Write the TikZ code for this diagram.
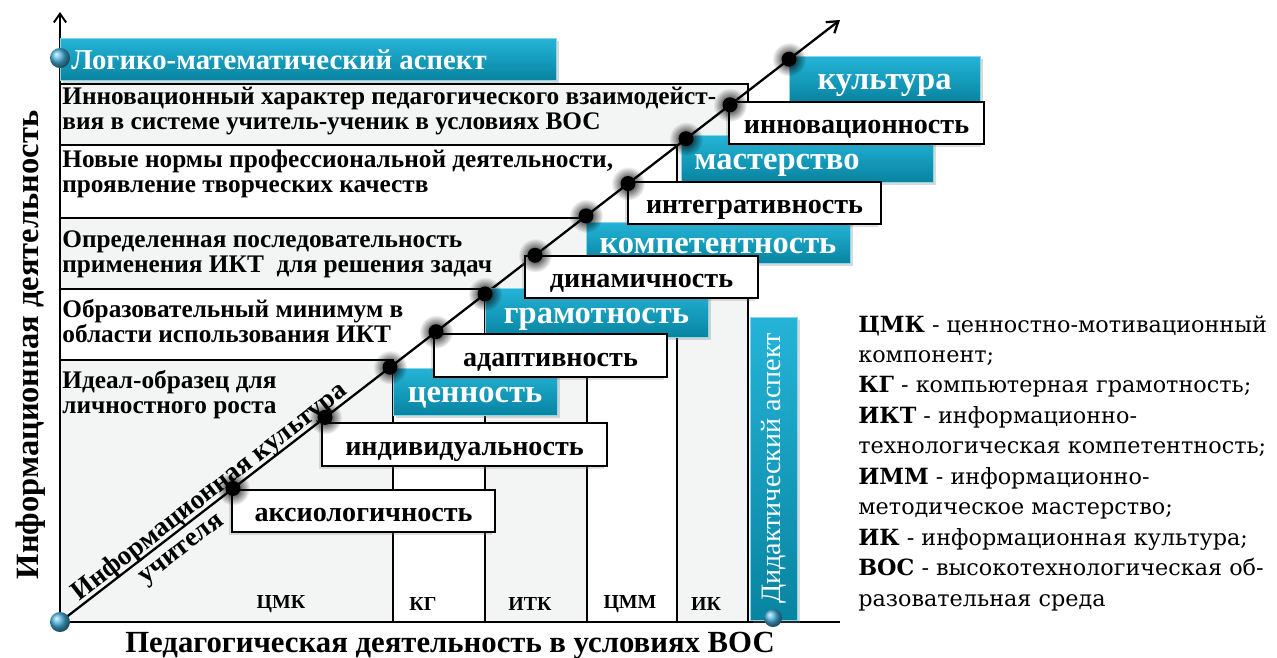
\documentclass[tikz,border=0pt]{standalone}
\usepackage{fontspec}
\setmainfont{Liberation Serif}
\newfontfamily\legfont{DejaVu Serif}
\usetikzlibrary{arrows.meta,shadows,fadings}
\definecolor{tgray}{RGB}{243,244,244}
\definecolor{cyT}{RGB}{36,180,216}
\definecolor{cyB}{RGB}{8,132,160}
\definecolor{ballc}{RGB}{70,175,220}
\tikzfading[name=dotfade, inner color=transparent!0, outer color=transparent!100]
\tikzset{
  tabline/.style={draw=black, line width=0.9pt},
  axisline/.style={line width=1.1pt},
  cyfill/.style={top color=cyT, bottom color=cyB, draw=cyT!55!white, line width=0.3pt,
    drop shadow={opacity=0.3, shadow xshift=1.5pt, shadow yshift=-1.5pt}},
  cybox/.style={rectangle, inner sep=0pt, cyfill, text=white, text height=12pt, text depth=0pt,
    font=\bfseries\fontsize{18.5}{20}\selectfont},
  whbox/.style={rectangle, inner sep=0pt, fill=white, draw=black, line width=1.3pt, text height=12pt, text depth=0pt,
    font=\bfseries\fontsize{16}{18}\selectfont,
    drop shadow={opacity=0.25, shadow xshift=-1.5pt, shadow yshift=-1.5pt}},
  rowtext/.style={anchor=north west, inner sep=0pt, align=left, font=\bfseries\fontsize{14.4}{14.2}\selectfont},
  coltext/.style={font=\bfseries\fontsize{11.3}{13}\selectfont, inner sep=0pt},
  axtext/.style={font=\bfseries\fontsize{17.5}{20}\selectfont, inner sep=0pt},
  difftext/.style={font=\bfseries\fontsize{15.5}{17}\selectfont, inner sep=0pt},
}
\begin{document}
\begin{tikzpicture}[x=0.02cm,y=-0.02cm]
\useasboundingbox (0,0) rectangle (1277,657);
\coordinate (O) at (60,622);
\coordinate (T) at (840,20);
\coordinate (Ytop) at (60,12);
\coordinate (Xend) at (840,622);

% staircase table
\draw[tabline, fill=tgray] (60,84) rectangle (748,622);
\draw[tabline, fill=white] (60,145) rectangle (677,622);
\draw[tabline, fill=tgray] (60,218) rectangle (587,622);
\draw[tabline, fill=white] (60,289) rectangle (485,622);
\draw[tabline, fill=tgray] (60,360) rectangle (393,622);

% axes
\draw[axisline, -{Straight Barb[length=5pt,width=7pt]}] (O) -- (Ytop);
\draw[axisline] (O) -- (Xend);

% aspect bars
\node[rectangle, inner sep=0pt, cyfill, minimum width=9.92cm, minimum height=0.84cm,
  text=white, text height=12pt, text depth=0pt, font=\bfseries\fontsize{16.4}{18}\selectfont] (logic) at (308,59)
  {Логико-математический аспект\hspace*{1.16cm}};
\node[rectangle, inner sep=0pt, rotate=90, cyfill, minimum width=6.06cm, minimum height=0.94cm,
  text=white, text height=8.5pt, text depth=0pt, font=\fontsize{16}{18}\selectfont] (didact) at (773.5,468.5)
  {Дидактический аспект};

% diagonal
\draw[line width=1.3pt, -{Straight Barb[length=6pt,width=8pt]}] (O) -- (T);

% cyan boxes
\node[cybox, minimum width=3.28cm, minimum height=0.94cm] (cen) at (475,391.5) {ценность};
\node[cybox, minimum width=4.46cm, minimum height=0.98cm] (gram) at (596.5,312.5) {грамотность};
\node[cybox, minimum width=5.28cm, minimum height=0.82cm] (komp) at (718,242.5) {компетентность};
\node[cybox, minimum width=5.04cm, minimum height=0.94cm] (mast) at (807,158.5) {мастерство\hspace*{1.2cm}};
\node[cybox, minimum width=3.82cm, minimum height=0.92cm] (kult) at (884.5,79) {культура};

% white boxes
\node[whbox, minimum width=5.26cm, minimum height=0.84cm] (aks) at (363.5,511) {аксиологичность};
\node[whbox, minimum width=5.7cm, minimum height=0.86cm] (ind) at (464.5,444.5) {индивидуальность};
\node[whbox, minimum width=4.66cm, minimum height=0.86cm] (adap) at (550.5,355.5) {адаптивность};
\node[whbox, minimum width=4.66cm, minimum height=0.84cm] (din) at (641.5,277) {динамичность};
\node[whbox, minimum width=5.06cm, minimum height=0.84cm] (integ) at (754.5,203) {интегративность};
\node[whbox, minimum width=5.1cm, minimum height=0.84cm] (innov) at (856.5,123) {инновационность};

% dots on the diagonal
\foreach \px/\py in {233/488.4, 325/417.4, 390/367.2, 436/331.7, 485/293.9, 535/255.3, 586/215.9, 628/183.5, 686/138.7, 730/104.8, 789/59.2}{
  \fill[black, path fading=dotfade] (\px,\py) circle (17);
  \fill[black] (\px,\py) circle (7.5);
}

% balls
\shade[ball color=ballc] (60,58) circle (10);
\shade[ball color=ballc] (O) circle (10);
\shade[ball color=ballc] (773,618) circle (9);

% row texts
\node[rowtext] (r1) at (62,87) {Инновационный характер педагогического взаимодейст-\\вия в системе учитель-ученик в условиях ВОС};
\node[rowtext] (r2) at (62,150) {Новые нормы профессиональной деятельности,\\проявление творческих качеств};
\node[rowtext] (r3) at (62,230) {Определенная последовательность\\применения ИКТ\ \ для решения задач};
\node[rowtext] (r4) at (62,299) {Образовательный минимум в\\области использования ИКТ};
\node[rowtext] (r5) at (62,370) {Идеал-образец для\\личностного роста};

% column labels
\node[coltext] (c1) at (281,604) {ЦМК};
\node[coltext] (c2) at (423,604) {КГ};
\node[coltext] (c3) at (530,604) {ИТК};
\node[coltext] (c4) at (630,604) {ЦММ};
\node[coltext] (c5) at (706,604) {ИК};

% axis labels
\node[axtext, anchor=base] (xlab) at (450,652) {Педагогическая деятельность в условиях ВОС};
\node[axtext, anchor=base, rotate=90, font=\bfseries\fontsize{18.5}{20}\selectfont] (ylab) at (38,345) {Информационная деятельность};

% diagonal texts
\node[difftext, anchor=base, rotate=37.7] (dt1) at (214,497.5) {Информационная культура};
\node[difftext, anchor=center, rotate=37.7] (dt2) at (183,551) {учителя};

% legend
\node[anchor=north west, inner sep=0pt, align=left, font=\legfont\fontsize{12.7}{17.35}\selectfont] (legend) at (858,315)
{\textbf{ЦМК} - ценностно-мотивационный\\
компонент;\\
\textbf{КГ} - компьютерная грамотность;\\
\textbf{ИКТ} - информационно-\\
технологическая компетентность;\\
\textbf{ИММ} - информационно-\\
методическое мастерство;\\
\textbf{ИК} - информационная культура;\\
\textbf{ВОС} - высокотехнологическая об-\\
разовательная среда};
\end{tikzpicture}
\end{document}
